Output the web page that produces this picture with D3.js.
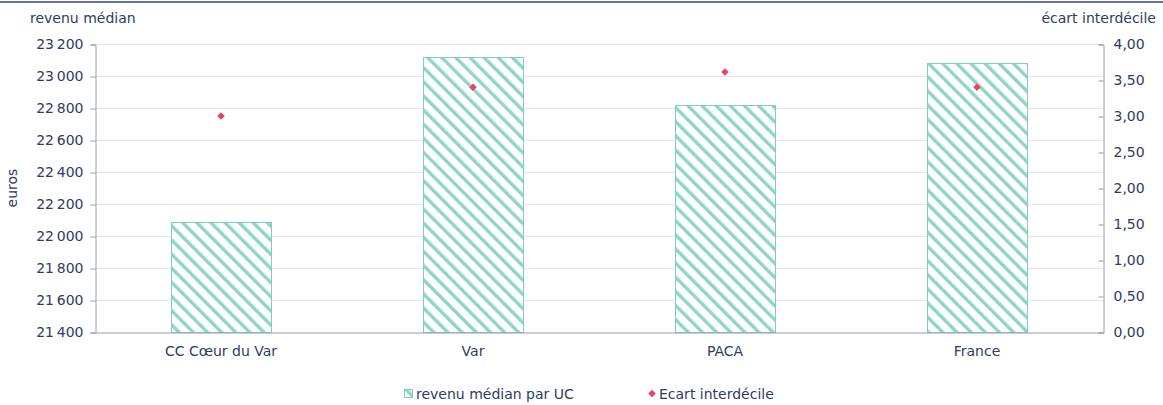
<!DOCTYPE html>
<html>
<head>
<meta charset="utf-8">
<script src="https://cdn.jsdelivr.net/npm/d3@7"></script>
<style>
  body { margin: 0; background: #fff; }
  text { font-family: "DejaVu Sans", Verdana, sans-serif; fill: #2f3b63; }
</style>
</head>
<body>
<script>
// data
var categories = ['CC Cœur du Var', 'Var', 'PACA', 'France'];
var revenuMedian = [22090, 23120, 22820, 23080];
var ecartInterdecile = [3.0, 3.4, 3.61, 3.4];
var leftTicks = [21400, 21600, 21800, 22000, 22200, 22400, 22600, 22800, 23000, 23200];
var rightTicks = [0, 0.5, 1, 1.5, 2, 2.5, 3, 3.5, 4];

var W = 1163, H = 405;
var plotLeft = 95, plotRight = 1103, plotTop = 44, plotBottom = 332;
var fs = '14px';

var svg = d3.select('body').append('svg')
  .attr('width', W)
  .attr('height', H);

// hatch pattern for bars
var defs = svg.append('defs');
var pat = defs.append('pattern')
  .attr('id', 'hatch')
  .attr('patternUnits', 'userSpaceOnUse')
  .attr('width', 10)
  .attr('height', 10)
  .attr('patternTransform', 'rotate(-45)');
pat.append('rect').attr('width', 10).attr('height', 10).attr('fill', '#fff');
pat.append('rect').attr('x', 0).attr('width', 3.4).attr('height', 10).attr('fill', '#8fd5c7');

// top rule
svg.append('line')
  .attr('x1', 0).attr('x2', W)
  .attr('y1', 2).attr('y2', 2)
  .attr('stroke', '#2e4a7a').attr('stroke-width', 1.5);

var band = d3.scaleBand().domain(categories).range([plotLeft, plotRight]);
var y = d3.scaleLinear().domain([21400, 23200]).range([plotBottom, plotTop]);
var y2 = d3.scaleLinear().domain([0, 4]).range([plotBottom, plotTop]);

var fmtL = function(d) { return d3.format(',')(d).replace(',', '\u2009'); };
var fmtR = function(d) { return d3.format('.2f')(d).replace('.', ','); };

// gridlines
svg.append('g').selectAll('line').data(leftTicks.slice(1))
  .enter().append('line')
  .attr('x1', plotLeft).attr('x2', plotRight)
  .attr('y1', function(d) { return Math.round(y(d)) + 0.5; })
  .attr('y2', function(d) { return Math.round(y(d)) + 0.5; })
  .attr('stroke', '#e3e3e3');

// bars
svg.append('g').selectAll('rect').data(revenuMedian)
  .enter().append('rect')
  .attr('x', function(d, i) { return Math.round(band(categories[i]) + band.bandwidth() / 2 - 50) + 0.5; })
  .attr('width', 100)
  .attr('y', function(d) { return Math.round(y(d)) + 0.5; })
  .attr('height', function(d) { return plotBottom - Math.round(y(d)); })
  .attr('fill', 'url(#hatch)')
  .attr('stroke', '#7fcdbd')
  .attr('stroke-width', 1);

// left axis
var gl = svg.append('g').attr('transform', 'translate(' + (plotLeft + 0.5) + ',0.5)')
  .call(d3.axisLeft(y).tickValues(leftTicks).tickFormat(fmtL).tickSize(5).tickPadding(7));
gl.select('.domain').attr('stroke', '#9a9cb0');
gl.selectAll('.tick line').attr('stroke', '#9a9cb0');
gl.selectAll('text').style('font-size', fs).attr('fill', '#2f3b63');

// right axis (ticks pointing inward)
var gr = svg.append('g').attr('transform', 'translate(' + (plotRight + 0.5) + ',0.5)')
  .call(d3.axisRight(y2).tickValues(rightTicks).tickFormat(fmtR).tickSize(-5).tickPadding(10));
gr.select('.domain').attr('stroke', '#9a9cb0');
gr.selectAll('.tick line').attr('stroke', '#9a9cb0');
gr.selectAll('text').style('font-size', fs).attr('fill', '#2f3b63');

// bottom axis
var gb = svg.append('g').attr('transform', 'translate(0,' + (plotBottom + 0.5) + ')')
  .call(d3.axisBottom(band).tickSize(0).tickPadding(14));
gb.select('.domain').attr('stroke', '#9a9cb0');
gb.selectAll('text').style('font-size', fs).attr('fill', '#2f3b63');

// diamonds
var diamond = d3.symbol().type(d3.symbolDiamond2).size(36);
svg.append('g').selectAll('path').data(ecartInterdecile)
  .enter().append('path')
  .attr('d', diamond)
  .attr('transform', function(d, i) {
    return 'translate(' + (band(categories[i]) + band.bandwidth() / 2) + ',' + y2(d) + ')';
  })
  .attr('fill', '#e8445f');

// axis titles
svg.append('text').attr('x', 30).attr('y', 23).style('font-size', fs).text('revenu médian');
svg.append('text').attr('x', 1156).attr('y', 23).attr('text-anchor', 'end').style('font-size', fs).text('écart interdécile');
svg.append('text').attr('transform', 'translate(17,188) rotate(-90)').attr('text-anchor', 'middle')
  .style('font-size', fs).text('euros');

// legend
var lg = svg.append('g');
lg.append('rect').attr('x', 404.5).attr('y', 389.5).attr('width', 8).attr('height', 8)
  .attr('fill', 'url(#hatch)').attr('stroke', '#7fcdbd');
lg.append('text').attr('x', 416).attr('y', 399).style('font-size', fs).text('revenu médian par UC');
lg.append('path').attr('d', diamond).attr('transform', 'translate(652,393.5)').attr('fill', '#e8445f');
lg.append('text').attr('x', 659).attr('y', 399).style('font-size', fs).text('Ecart interdécile');
</script>
</body>
</html>
